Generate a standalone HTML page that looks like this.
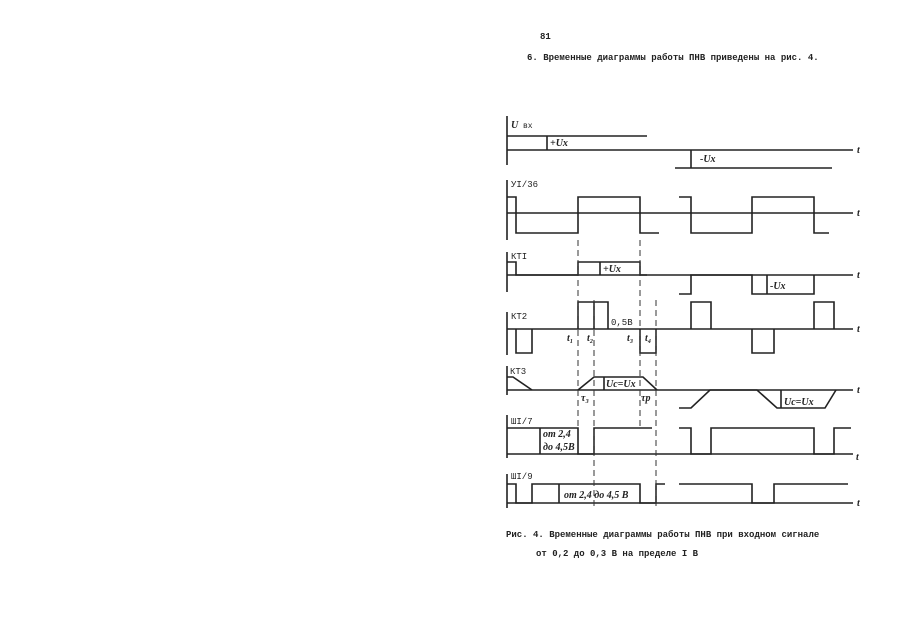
<!DOCTYPE html>
<html><head><meta charset="utf-8"><style>
html,body{margin:0;padding:0;background:#fff;}
svg{display:block;}
text{font-family:"Liberation Mono",monospace;fill:#222;}
.i{font-family:"Liberation Serif",serif;font-style:italic;font-size:10px;font-weight:bold;}
</style></head><body>
<svg width="900" height="619" viewBox="0 0 900 619" xmlns="http://www.w3.org/2000/svg">
<rect width="900" height="619" fill="#fff"/>
<text x="540" y="39" font-size="9" font-weight="bold">81</text>
<text x="527" y="60" font-size="9" font-weight="bold">6. Временные диаграммы работы ПНВ приведены на рис. 4.</text>
<text x="506" y="537" font-size="9" font-weight="bold">Рис. 4. Временные диаграммы работы ПНВ при входном сигнале</text>
<text x="536" y="556" font-size="9" font-weight="bold">от 0,2 до 0,3 В на пределе I В</text>

<g stroke="#222" stroke-width="1.6" fill="none">
<line x1="507" y1="116" x2="507" y2="165"/>
<line x1="507" y1="180" x2="507" y2="240"/>
<line x1="507" y1="252" x2="507" y2="292"/>
<line x1="507" y1="312" x2="507" y2="355"/>
<line x1="507" y1="366" x2="507" y2="395"/>
<line x1="507" y1="415" x2="507" y2="458"/>
<line x1="507" y1="474" x2="507" y2="508"/>
<polyline points="507,136 647,136"/>
<line x1="507" y1="150" x2="853" y2="150"/>
<line x1="547" y1="136" x2="547" y2="150"/>
<line x1="675" y1="168" x2="832" y2="168"/>
<line x1="691" y1="150" x2="691" y2="168"/>
<line x1="507" y1="213" x2="853" y2="213"/>
<polyline points="507,197 516,197 516,233 578,233 578,197 640,197 640,233 659,233"/>
<polyline points="679,197 691,197 691,233 752,233 752,197 814,197 814,233 829,233"/>
<polyline points="507,262 516,262 516,275 578,275 578,262 640,262 640,275 647,275"/>
<line x1="507" y1="275" x2="853" y2="275"/>
<line x1="600" y1="262" x2="600" y2="275"/>
<polyline points="679,294 691,294 691,275 752,275 752,294 814,294 814,275"/>
<line x1="767" y1="275" x2="767" y2="294"/>
<line x1="507" y1="329" x2="853" y2="329"/>
<polyline points="516,329 516,353 532,353 532,329"/>
<polyline points="578,329 578,302 608,302 608,329"/>
<line x1="594" y1="302" x2="594" y2="329"/>
<polyline points="640,329 640,353 656,353 656,329"/>
<polyline points="691,329 691,302 711,302 711,329"/>
<polyline points="752,329 752,353 774,353 774,329"/>
<polyline points="814,329 814,302 834,302 834,329"/>
<line x1="507" y1="390" x2="853" y2="390"/>
<polyline points="507,377 513,377 532,390"/>
<polyline points="578,390 594,377 643,377 657,390"/>
<line x1="604" y1="377" x2="604" y2="390"/>
<polyline points="679,408 691,408 710,390 757,390 777,408 825,408 836,390"/>
<line x1="781" y1="390" x2="781" y2="408"/>
<line x1="507" y1="454" x2="853" y2="454"/>
<polyline points="507,428 578,428 578,454 594,454 594,428 652,428"/>
<line x1="540" y1="428" x2="540" y2="454"/>
<polyline points="679,428 691,428 691,454 711,454 711,428 814,428 814,454 834,454 834,428 851,428"/>
<line x1="507" y1="503" x2="853" y2="503"/>
<polyline points="507,484 516,484 516,503 532,503 532,484 640,484 640,503 656,503 656,484 665,484"/>
<line x1="559" y1="484" x2="559" y2="503"/>
<polyline points="679,484 752,484 752,503 774,503 774,484 848,484"/>
</g>
<g stroke="#333" stroke-width="1" stroke-dasharray="6,4">
<line x1="578" y1="240" x2="578" y2="430"/>
<line x1="640" y1="240" x2="640" y2="430"/>
<line x1="594" y1="300" x2="594" y2="510"/>
<line x1="656" y1="300" x2="656" y2="510"/>
</g>
<text x="511" y="128" class="i" font-size="12">U</text><text x="523" y="128" font-size="8">вх</text>
<text x="511" y="187" font-size="9">УI/36</text>
<text x="511" y="259" font-size="9">КТI</text>
<text x="511" y="319" font-size="9">КТ2</text>
<text x="510" y="374" font-size="9">КТ3</text>
<text x="511" y="424" font-size="9">ШI/7</text>
<text x="511" y="479" font-size="9">ШI/9</text>
<text x="550" y="146" class="i">+Uх</text>
<text x="700" y="162" class="i">-Uх</text>
<text x="603" y="272" class="i">+Uх</text>
<text x="770" y="289" class="i">-Uх</text>
<text x="611" y="325" font-size="9">0,5В</text>
<text x="567" y="341" class="i">t₁</text>
<text x="587" y="341" class="i">t₂</text>
<text x="627" y="341" class="i">t₃</text>
<text x="645" y="341" class="i">t₄</text>
<text x="606" y="387" class="i">Uс=Uх</text>
<text x="784" y="405" class="i">Uс=Uх</text>
<text x="581" y="401" class="i">τ₃</text>
<text x="641" y="401" class="i">τр</text>
<text x="543" y="437" class="i">от 2,4</text>
<text x="543" y="450" class="i">до 4,5В</text>
<text x="564" y="498" class="i">от 2,4 до 4,5 В</text>
<text x="857" y="153" class="i">t</text><text x="857" y="216" class="i">t</text><text x="857" y="278" class="i">t</text><text x="857" y="332" class="i">t</text><text x="857" y="393" class="i">t</text><text x="856" y="460" class="i">t</text><text x="857" y="506" class="i">t</text>
</svg>
</body></html>
